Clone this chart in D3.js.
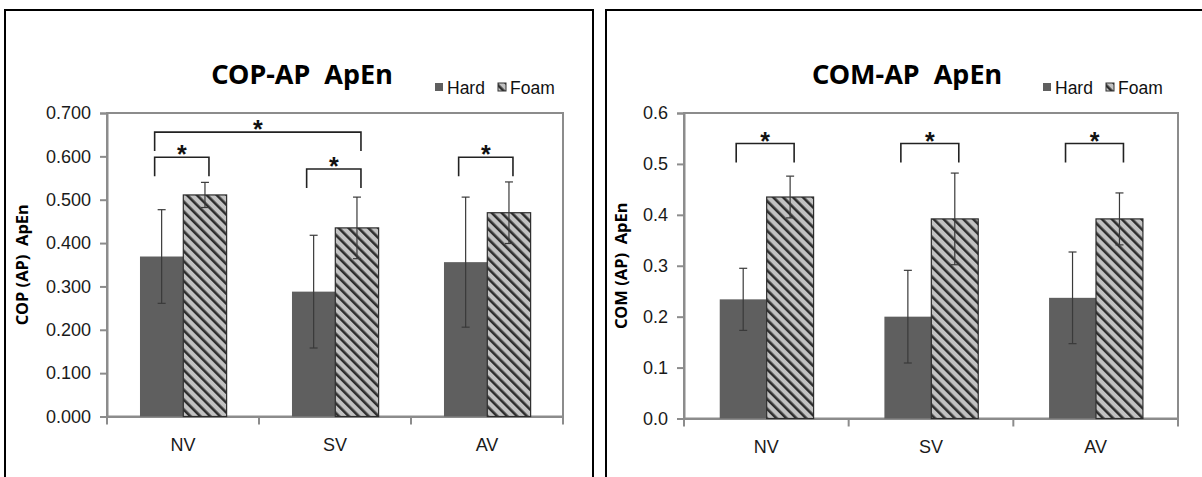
<!DOCTYPE html>
<html>
<head>
<meta charset="utf-8">
<script src="https://cdn.jsdelivr.net/npm/d3@7"></script>
<style>
  html, body { margin: 0; padding: 0; background: #fff; }
  svg { display: block; }
</style>
</head>
<body>
<svg id="chart" width="1202" height="477"></svg>
<script>
// ---------------- DATA ----------------
const categories = ["NV", "SV", "AV"];
const seriesNames = ["Hard", "Foam"];

// COP-AP ApEn panel
const copHard = [0.369, 0.288, 0.356];
const copFoam = [0.511, 0.435, 0.470];
const copHardErr = [0.108, 0.130, 0.150];
const copFoamErr = [0.029, 0.071, 0.071];
const copTicks = [0, 0.1, 0.2, 0.3, 0.4, 0.5, 0.6, 0.7];
const copTickLabels = ["0.000", "0.100", "0.200", "0.300", "0.400", "0.500", "0.600", "0.700"];
// significance brackets: [fromCategory, fromSeries, toCategory, toSeries, height]
const copSig = [
  ["NV", "Hard", "NV", "Foam", 0.598],
  ["SV", "Hard", "SV", "Foam", 0.571],
  ["AV", "Hard", "AV", "Foam", 0.598],
  ["NV", "Hard", "SV", "Foam", 0.656]
];

// COM-AP ApEn panel
const comHard = [0.234, 0.200, 0.237];
const comFoam = [0.435, 0.392, 0.392];
const comHardErr = [0.061, 0.091, 0.090];
const comFoamErr = [0.041, 0.090, 0.051];
const comTicks = [0, 0.1, 0.2, 0.3, 0.4, 0.5, 0.6];
const comTickLabels = ["0.0", "0.1", "0.2", "0.3", "0.4", "0.5", "0.6"];
const comSig = [
  ["NV", "Hard", "NV", "Foam", 0.540],
  ["SV", "Hard", "SV", "Foam", 0.540],
  ["AV", "Hard", "AV", "Foam", 0.540]
];

// ---------------- DRAW ----------------
const svg = d3.select("#chart");
const NARROW = "'Liberation Sans Narrow', 'Arial Narrow', 'Liberation Sans', Arial, sans-serif";
const BOLD = "'Noto Sans', 'DejaVu Sans', sans-serif";

const defs = svg.append("defs");
const pat = defs.append("pattern")
  .attr("id", "hatch")
  .attr("patternUnits", "userSpaceOnUse")
  .attr("width", 7).attr("height", 7)
  .attr("patternTransform", "rotate(-45)");
pat.append("rect").attr("width", 7).attr("height", 7).attr("fill", "#c2c2c2");
pat.append("rect").attr("x", 0).attr("y", 0).attr("width", 2.6).attr("height", 7).attr("fill", "#2e2e2e");

function drawPanel(cfg) {
  const g = svg.append("g");
  // outer panel border
  g.append("rect")
    .attr("x", cfg.box[0]).attr("y", cfg.box[1])
    .attr("width", cfg.box[2]).attr("height", cfg.box[3])
    .attr("fill", "none").attr("stroke", "#000").attr("stroke-width", 2);

  const y = d3.scaleLinear().domain([0, cfg.yMax]).range([cfg.bottom, cfg.top]);
  const x0 = d3.scaleBand().domain(categories).range([cfg.left, cfg.right]).padding(0);
  const bw = x0.bandwidth();
  const x1 = d3.scaleBand().domain(seriesNames).range([bw * 0.217, bw * 0.787]).padding(0);

  // plot frame
  g.append("rect")
    .attr("x", cfg.left).attr("y", cfg.top)
    .attr("width", cfg.right - cfg.left).attr("height", cfg.bottom - cfg.top)
    .attr("fill", "none").attr("stroke", "#8c8c8c").attr("stroke-width", 2);

  // y axis
  const yAxis = d3.axisLeft(y)
    .tickValues(cfg.ticks)
    .tickFormat((d, i) => cfg.tickLabels[i])
    .tickSize(7).tickPadding(9);
  const ya = g.append("g").attr("transform", `translate(${cfg.left},0)`).call(yAxis);
  ya.select(".domain").attr("stroke", "#8c8c8c").attr("stroke-width", 2);
  ya.selectAll(".tick line").attr("stroke", "#8c8c8c").attr("stroke-width", 2);
  ya.selectAll(".tick text")
    .attr("font-family", NARROW).attr("font-size", 18).attr("fill", "#1a1a1a");

  // x axis (ticks at category boundaries)
  const xAxis = d3.axisBottom(x0).tickSize(0).tickPadding(22);
  const xa = g.append("g").attr("transform", `translate(0,${cfg.bottom})`).call(xAxis);
  xa.select(".domain").attr("stroke", "#8c8c8c").attr("stroke-width", 2);
  xa.selectAll(".tick text")
    .attr("font-family", NARROW).attr("font-size", 18).attr("fill", "#1a1a1a");
  const bounds = categories.map(c => x0(c)).concat([x0(categories[categories.length - 1]) + bw]);
  g.selectAll(".xbound").data(bounds).enter().append("line")
    .attr("x1", d => d).attr("x2", d => d)
    .attr("y1", cfg.bottom).attr("y2", cfg.bottom + 8)
    .attr("stroke", "#8c8c8c").attr("stroke-width", 2);

  // bars
  const rows = [];
  categories.forEach((c, i) => {
    rows.push({ c, s: "Hard", v: cfg.hard[i], e: cfg.hardErr[i] });
    rows.push({ c, s: "Foam", v: cfg.foam[i], e: cfg.foamErr[i] });
  });
  g.selectAll(".bar").data(rows).enter().append("rect")
    .attr("x", d => x0(d.c) + x1(d.s))
    .attr("y", d => y(d.v))
    .attr("width", x1.bandwidth())
    .attr("height", d => y(0) - y(d.v))
    .attr("fill", d => d.s === "Hard" ? "#5f5f5f" : "url(#hatch)")
    .attr("stroke", d => d.s === "Hard" ? "none" : "#2e2e2e")
    .attr("stroke-width", 1.2);

  // error bars
  const cx = d => x0(d.c) + x1(d.s) + x1.bandwidth() / 2;
  const eg = g.selectAll(".err").data(rows).enter().append("g").attr("stroke", "#3a3a3a").attr("stroke-width", 1.2);
  eg.append("line").attr("x1", cx).attr("x2", cx).attr("y1", d => y(d.v + d.e)).attr("y2", d => y(d.v - d.e));
  eg.append("line").attr("x1", d => cx(d) - 4).attr("x2", d => cx(d) + 4).attr("y1", d => y(d.v + d.e)).attr("y2", d => y(d.v + d.e));
  eg.append("line").attr("x1", d => cx(d) - 4).attr("x2", d => cx(d) + 4).attr("y1", d => y(d.v - d.e)).attr("y2", d => y(d.v - d.e));

  // significance brackets
  const barCenter = (c, s) => x0(c) + x1(s) + x1.bandwidth() / 2;
  cfg.sig.forEach(sg => {
    const xa1 = barCenter(sg[0], sg[1]) - 7;
    const xb1 = barCenter(sg[2], sg[3]) + 4;
    const yy = y(sg[4]);
    g.append("path")
      .attr("d", `M${xa1},${yy + 19}V${yy}H${xb1}V${yy + 19}`)
      .attr("fill", "none").attr("stroke", "#222").attr("stroke-width", 1.6);
    g.append("text")
      .attr("x", (xa1 + xb1) / 2).attr("y", yy + 6)
      .attr("text-anchor", "middle")
      .attr("font-family", "'Liberation Sans', Arial, sans-serif").attr("font-weight", "bold")
      .attr("font-size", 25).attr("fill", "#111")
      .text("*");
  });

  // title
  g.append("text")
    .attr("x", cfg.titleX).attr("y", 84)
    .attr("text-anchor", "middle")
    .attr("font-family", BOLD).attr("font-weight", "bold")
    .attr("font-size", 27).attr("fill", "#000")
    .attr("xml:space", "preserve")
    .text(cfg.title);

  // y axis title
  g.append("text")
    .attr("transform", `translate(${cfg.yTitleX},${(cfg.top + cfg.bottom) / 2}) rotate(-90)`)
    .attr("text-anchor", "middle")
    .attr("font-family", BOLD).attr("font-weight", "bold")
    .attr("font-size", 16.5).attr("fill", "#000")
    .attr("xml:space", "preserve")
    .text(cfg.yTitle);

  // legend
  const lg = g.append("g").attr("transform", `translate(${cfg.legendX},87)`);
  seriesNames.forEach((s, i) => {
    const item = lg.append("g").attr("transform", `translate(${i * 63},0)`);
    item.append("rect").attr("x", 0).attr("y", -4).attr("width", 8).attr("height", 8)
      .attr("fill", s === "Hard" ? "#5f5f5f" : "url(#hatch)")
      .attr("stroke", s === "Hard" ? "none" : "#333").attr("stroke-width", 1);
    item.append("text").attr("x", 12).attr("y", 6.5)
      .attr("font-family", NARROW).attr("font-size", 17.5).attr("fill", "#111")
      .text(s);
  });
}

drawPanel({
  box: [5, 10, 588, 480],
  left: 107, right: 563, top: 113, bottom: 416.5,
  yMax: 0.7, ticks: copTicks, tickLabels: copTickLabels,
  hard: copHard, foam: copFoam, hardErr: copHardErr, foamErr: copFoamErr,
  sig: copSig,
  title: "COP-AP  ApEn", titleX: 302,
  yTitle: "COP (AP)  ApEn", yTitleX: 28,
  legendX: 435
});

drawPanel({
  box: [606, 10, 620, 480],
  left: 684, right: 1178, top: 113, bottom: 418.5,
  yMax: 0.6, ticks: comTicks, tickLabels: comTickLabels,
  hard: comHard, foam: comFoam, hardErr: comHardErr, foamErr: comFoamErr,
  sig: comSig,
  title: "COM-AP  ApEn", titleX: 907,
  yTitle: "COM (AP)  ApEn", yTitleX: 627,
  legendX: 1043
});
</script>
</body>
</html>
